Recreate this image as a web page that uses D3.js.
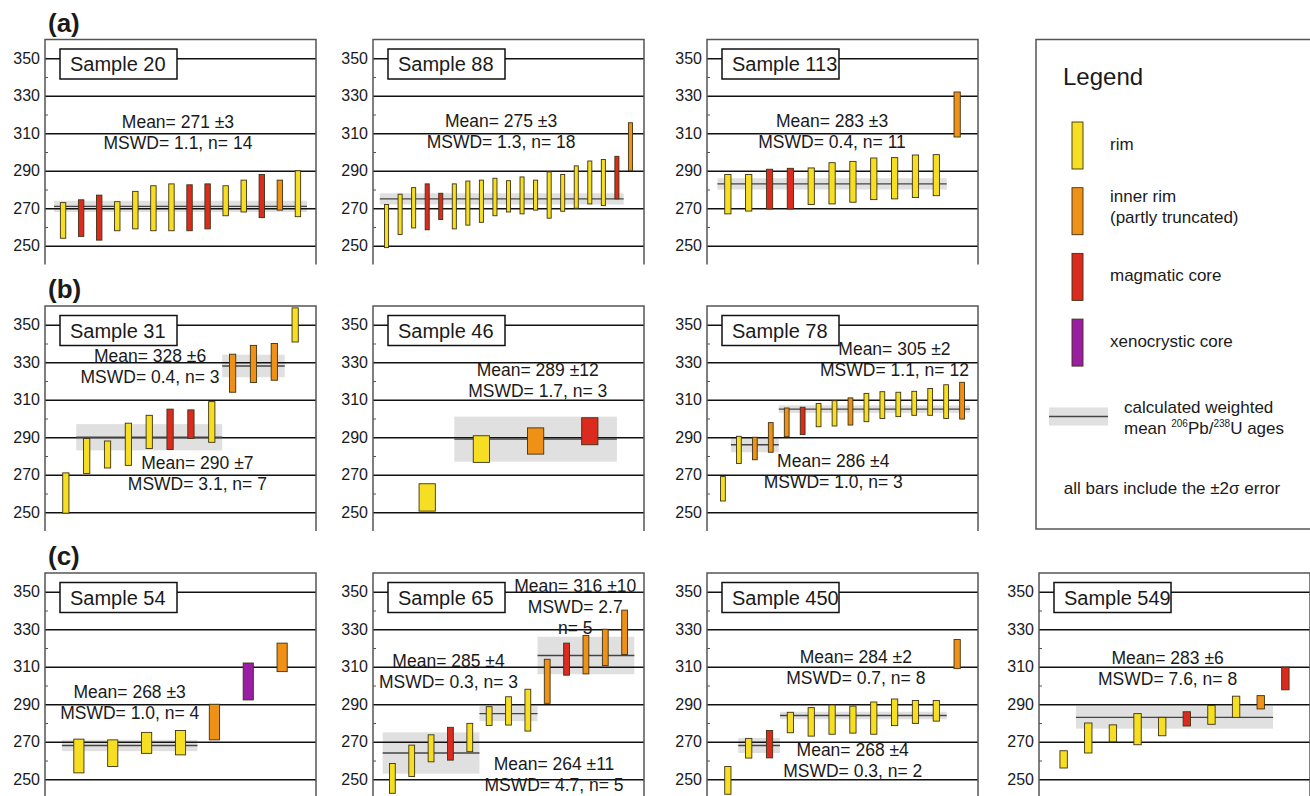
<!DOCTYPE html>
<html>
<head>
<meta charset="utf-8">
<script src="https://cdn.jsdelivr.net/npm/d3@7"></script>
<style>
  body { margin: 0; background: #fff; }
  text { font-family: "Liberation Sans", Arial, Helvetica, sans-serif; fill: #1a1a1a; }
</style>
</head>
<body>
<script>
// U-Pb zircon ages, each bar = [low, high, grain type] (Ma, incl. 2 sigma)
// R = rim, I = inner rim, M = magmatic core, X = xenocrystic core
const sample20 = [[254,273,"R"],[255,274.5,"M"],[253,277,"M"],[258,273.5,"R"],[259,279,"R"],[258,282,"R"],[258,283,"R"],
  [258,282.5,"M"],[259,283,"M"],[266,282,"R"],[268,285,"R"],[265,288,"M"],[269,285,"I"],[265.5,290,"R"]];
const sample88 = [[249,272,"R"],[256,277.5,"R"],[259.5,281,"R"],[258.5,283,"M"],[264,278,"M"],[259,283,"R"],[261,284.5,"R"],
  [262.5,285,"R"],[266,286,"R"],[268,284.7,"R"],[267,286.7,"R"],[269,285,"R"],[264.7,289.4,"R"],[268.4,288,"R"],
  [270,292.6,"R"],[272.3,295.2,"R"],[271.4,296,"R"],[275,297.7,"M"],[290,315.6,"I"]];
const sample113 = [[267,288,"R"],[268.5,288,"R"],[269.6,290.8,"M"],[269.6,291.3,"M"],[272,291.5,"R"],[272.3,294.3,"R"],
  [273.2,295,"R"],[274.6,296.8,"R"],[275,297,"R"],[275.7,298.4,"R"],[276.7,298.6,"R"],[308,332,"I"]];
const sample31 = [[249.5,271,"R"],[270.7,289.3,"R"],[273.6,288,"R"],[275,297.5,"R"],[284,301.7,"R"],[283.5,305,"M"],
  [289.4,304.6,"M"],[287.3,309,"R"],[314,334.3,"I"],[319.2,339,"I"],[320.4,340,"I"],[340.8,359,"R"]];
const sample46 = [[250.6,265.2,"R"],[276.6,290.8,"R"],[281,295,"I"],[286,300.4,"M"]];
const sample78 = [[256,269,"R"],[276,290.5,"R"],[278,290,"I"],[282,297.8,"I"],[290.3,305.6,"I"],[291.4,306,"M"],
  [295.6,308,"R"],[296,309.5,"R"],[296.5,311,"I"],[298.3,313.4,"R"],[300,314.3,"R"],[301,314,"R"],[301.7,314.5,"R"],
  [301.7,316,"R"],[300,318,"R"],[299.7,319.3,"I"]];
const sample54 = [[253.4,271.4,"R"],[256.8,271,"R"],[263.8,275,"R"],[263,276,"R"],[271,290,"I"],[292.3,312,"X"],[307.4,322.6,"I"]];
const sample65 = [[242.5,258.4,"R"],[251.5,268.2,"R"],[259.3,273.7,"R"],[260.2,277.7,"M"],[264.7,279.8,"R"],[278.7,288.7,"R"],
  [278.9,294,"R"],[275.7,298,"R"],[290.5,314,"I"],[305.5,322.6,"M"],[306.2,326.7,"I"],[310.6,330,"I"],[316.5,340.2,"I"]];
const sample450 = [[242,256.8,"R"],[261.3,271.8,"R"],[261.4,276,"M"],[274.8,285.7,"R"],[273,288.2,"R"],[274,289.6,"R"],
  [274.6,289,"R"],[274,291.2,"R"],[278.6,292.8,"R"],[279.8,292,"R"],[281,292,"R"],[309,324.5,"I"]];
const sample549 = [[256,265.2,"R"],[264,280,"R"],[270,279,"R"],[268.4,285,"R"],[273.2,283,"R"],[278.4,286,"M"],
  [279.3,289.3,"R"],[283,294.3,"R"],[287.5,294.6,"I"],[297.7,309.8,"M"]];

// weighted means: [sample, mean, ±, MSWD, n, first bar, last bar]
const weightedMeans = [
  ["Sample 20", 271, 3, 1.1, 14, 1, 14],
  ["Sample 88", 275, 3, 1.3, 18, 1, 18],
  ["Sample 113", 283, 3, 0.4, 11, 1, 11],
  ["Sample 31", 290, 7, 3.1, 7, 2, 8],
  ["Sample 31", 328, 6, 0.4, 3, 9, 11],
  ["Sample 46", 289, 12, 1.7, 3, 2, 4],
  ["Sample 78", 286, 4, 1.0, 3, 2, 4],
  ["Sample 78", 305, 2, 1.1, 12, 5, 16],
  ["Sample 54", 268, 3, 1.0, 4, 1, 4],
  ["Sample 65", 264, 11, 4.7, 5, 1, 5],
  ["Sample 65", 285, 4, 0.3, 3, 6, 8],
  ["Sample 65", 316, 10, 2.7, 5, 9, 13],
  ["Sample 450", 268, 4, 0.3, 2, 2, 3],
  ["Sample 450", 284, 2, 0.7, 8, 4, 11],
  ["Sample 549", 283, 6, 7.6, 8, 2, 9]
];

const yTicks = [250, 270, 290, 310, 330, 350];
const yMinor = [260, 280, 300, 320, 340];
const rowLabels = ["(a)", "(b)", "(c)"];
const typeCodes = ["R", "I", "M", "X"];
const typeNames = [["rim"], ["inner rim", "(partly truncated)"], ["magmatic core"], ["xenocrystic core"]];

// where each mean label sits: [x in bar units, y in Ma, wrap n onto own line]
const notePos = [
  [7.36, 312.8], [9.45, 313.5], [6.0, 313.5],
  [7.31, 273.1], [5.04, 330.3], [3.04, 322.7], [7.92, 274.2], [11.76, 333.9],
  [2.5, 293.3], [9.35, 254.8], [3.9, 309.9], [10.45, 349.9, true], [6.99, 262.6], [7.14, 312], [5.22, 311.7]
];

const width = 1310, height = 796;
const panelLeft = [45, 373, 707, 1039];
const rowTop = [39.5, 306, 573];
const panelW = 271, panelH = 225;
const colors = {R: "#f6df22", I: "#ef9116", M: "#db2b1f", X: "#9a1ea4"};

const panels = [
  {name: "Sample 20", row: 0, col: 0, bars: sample20},
  {name: "Sample 88", row: 0, col: 1, bars: sample88},
  {name: "Sample 113", row: 0, col: 2, bars: sample113},
  {name: "Sample 31", row: 1, col: 0, bars: sample31},
  {name: "Sample 46", row: 1, col: 1, bars: sample46},
  {name: "Sample 78", row: 1, col: 2, bars: sample78},
  {name: "Sample 54", row: 2, col: 0, bars: sample54},
  {name: "Sample 65", row: 2, col: 1, bars: sample65},
  {name: "Sample 450", row: 2, col: 2, bars: sample450},
  {name: "Sample 549", row: 2, col: 3, bars: sample549}
];

const svg = d3.select("body").append("svg")
    .attr("width", width)
    .attr("height", height);

// row labels
rowLabels.forEach((t, i) => {
  svg.append("text")
    .attr("x", 48).attr("y", rowTop[i] - 8)
    .attr("font-size", 26).attr("font-weight", "bold")
    .text(t);
});

const fmt1 = d3.format(".1f");

panels.forEach(p => {
  const x0 = panelLeft[p.col], top = rowTop[p.row];
  const n = p.bars.length;
  const x = d3.scaleLinear().domain([0, n + 1]).range([x0, x0 + panelW]);
  const y = d3.scaleLinear().domain([240, 360]).range([top + panelH, top]);
  const step = x(1) - x(0);
  const bw = step * 0.3;
  const g = svg.append("g");

  const groups = weightedMeans.map((m, i) => ({m, pos: notePos[i]})).filter(d => d.m[0] === p.name);

  // grey error bands of the weighted means
  g.selectAll(".band").data(groups).enter().append("rect")
    .attr("x", d => x(d.m[5] - 0.5))
    .attr("width", d => x(d.m[6] + 0.5) - x(d.m[5] - 0.5))
    .attr("y", d => y(d.m[1] + d.m[2]))
    .attr("height", d => y(d.m[1] - d.m[2]) - y(d.m[1] + d.m[2]))
    .attr("fill", "#e0e0e0");

  // gridlines
  g.append("g")
    .attr("transform", `translate(${x0},0)`)
    .call(d3.axisRight(y).tickValues(yTicks).tickSize(panelW).tickFormat(""))
    .call(a => a.select(".domain").remove())
    .selectAll("line").attr("stroke", "#111").attr("stroke-width", 1.3);

  // minor ticks
  g.append("g")
    .attr("transform", `translate(${x0},0)`)
    .call(d3.axisRight(y).tickValues(yMinor).tickSize(3).tickFormat(""))
    .call(a => a.select(".domain").remove())
    .selectAll("line").attr("stroke", "#555");

  // tick labels
  g.append("g")
    .attr("transform", `translate(${x0},0)`)
    .call(d3.axisLeft(y).tickValues(yTicks).tickSize(0).tickPadding(5))
    .call(a => a.select(".domain").remove())
    .selectAll("text")
    .attr("font-size", 16)
    .attr("font-family", "'Liberation Sans', Arial, sans-serif")
    .attr("fill", "#1a1a1a");

  // frame (open at bottom)
  g.append("path")
    .attr("d", `M${x0},${top + panelH}V${top}H${x0 + panelW}V${top + panelH}`)
    .attr("fill", "none").attr("stroke", "#555").attr("stroke-width", 1.5);

  // mean lines
  g.selectAll(".mline").data(groups).enter().append("line")
    .attr("x1", d => x(d.m[5] - 0.5)).attr("x2", d => x(d.m[6] + 0.5))
    .attr("y1", d => y(d.m[1])).attr("y2", d => y(d.m[1]))
    .attr("stroke", "#444").attr("stroke-width", 1.3);

  // sample name box
  g.append("rect")
    .attr("x", x0 + 15).attr("y", top + 9.5)
    .attr("width", 117).attr("height", 30)
    .attr("fill", "#fff").attr("stroke", "#111").attr("stroke-width", 1.5);
  g.append("text")
    .attr("x", x0 + 25).attr("y", top + 31.5)
    .attr("font-size", 20)
    .text(p.name);

  // age bars
  g.selectAll(".bar").data(p.bars).enter().append("rect")
    .attr("x", (d, i) => x(i + 1) - bw / 2)
    .attr("width", bw)
    .attr("y", d => y(d[1]))
    .attr("height", d => y(d[0]) - y(d[1]))
    .attr("fill", d => colors[d[2]])
    .attr("stroke", "#3d3214").attr("stroke-width", 0.9);

  // mean annotations
  groups.forEach(d => {
    const [, mean, err, mswd, cnt] = d.m;
    const lines = d.pos[2]
      ? [`Mean= ${mean} ±${err}`, `MSWD= ${fmt1(mswd)}`, `n= ${cnt}`]
      : [`Mean= ${mean} ±${err}`, `MSWD= ${fmt1(mswd)}, n= ${cnt}`];
    const t = g.append("text")
      .attr("x", x(d.pos[0])).attr("y", y(d.pos[1]))
      .attr("text-anchor", "middle")
      .attr("font-size", 17.5);
    lines.forEach((l, i) => {
      t.append("tspan").attr("x", x(d.pos[0])).attr("dy", i ? 21 : 0).text(l);
    });
  });
});

// legend
const lg = svg.append("g");
lg.append("path")
  .attr("d", "M1330,39.5H1036V529H1330")
  .attr("fill", "none").attr("stroke", "#555").attr("stroke-width", 1.5);
lg.append("text").attr("x", 1063).attr("y", 85).attr("font-size", 24).text("Legend");

const sw = d3.scaleLinear().domain([0, 1]).range([122, 187.7]);
typeCodes.forEach((c, i) => {
  lg.append("rect")
    .attr("x", 1072).attr("y", sw(i))
    .attr("width", 11).attr("height", 47)
    .attr("fill", colors[c]).attr("stroke", "#3d3214").attr("stroke-width", 0.9);
  const names = typeNames[i];
  const t = lg.append("text").attr("font-size", 17)
    .attr("y", sw(i) + 23.5 + (names.length > 1 ? -9 : 4));
  names.forEach((s, j) => t.append("tspan").attr("x", 1110).attr("dy", j ? 21 : 0).text(s));
});

lg.append("rect").attr("x", 1049).attr("y", 407.5).attr("width", 59).attr("height", 18).attr("fill", "#e0e0e0");
lg.append("line").attr("x1", 1049).attr("x2", 1108).attr("y1", 416.5).attr("y2", 416.5)
  .attr("stroke", "#444").attr("stroke-width", 1.3);
lg.append("text").attr("x", 1124).attr("y", 413).attr("font-size", 17).text("calculated weighted");
const iso = lg.append("text").attr("x", 1124).attr("y", 434).attr("font-size", 17);
iso.append("tspan").text("mean ");
iso.append("tspan").attr("font-size", 10).attr("dy", -7).text("206");
iso.append("tspan").attr("dy", 7).text("Pb/");
iso.append("tspan").attr("font-size", 10).attr("dy", -7).text("238");
iso.append("tspan").attr("dy", 7).text("U ages");

lg.append("text").attr("x", 1172).attr("y", 494).attr("text-anchor", "middle")
  .attr("font-size", 17).text("all bars include the ±2σ error");
</script>
</body>
</html>
